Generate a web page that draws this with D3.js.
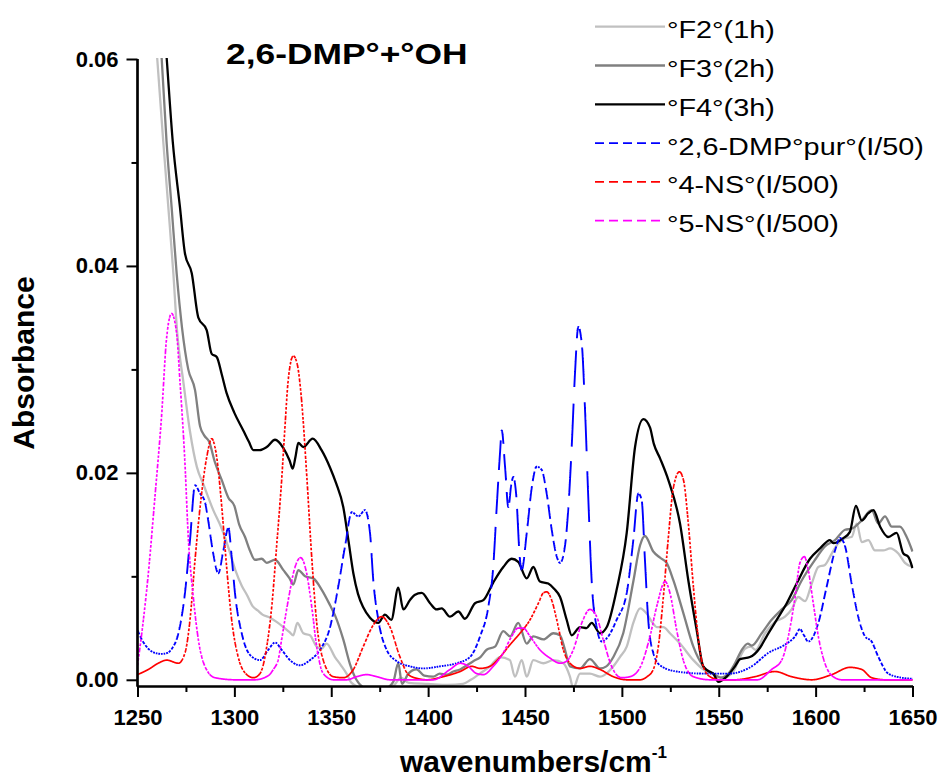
<!DOCTYPE html>
<html><head><meta charset="utf-8">
<script src="https://cdn.jsdelivr.net/npm/d3@7"></script>
<style>body{margin:0;background:#fff}svg{display:block}</style>
</head><body>
<svg id="chart" width="940" height="780"></svg>
<script>
// ---------------- DATA ----------------
const chartTitle = "2,6-DMP°+°OH";
const xTitle = "wavenumbers/cm";
const xTitleSup = "-1";
const yTitle = "Absorbance";
const xTickValues = [1250,1300,1350,1400,1450,1500,1550,1600,1650];
const xMinorTicks = [1275,1325,1375,1425,1475,1525,1575,1625];
const yTickValues = [0.00,0.02,0.04,0.06];
const yTickLabels = ["0.00","0.02","0.04","0.06"];
const yMinorTicks = [0.01,0.03,0.05];

const seriesNames = ["°F2°(1h)","°F3°(2h)","°F4°(3h)","°2,6-DMP°pur°(I/50)","°4-NS°(I/500)","°5-NS°(I/500)"];
const seriesColors = ["#c0c0c0","#808080","#000000","#0000ff","#ff0000","#ff00ff"];

const f2Wn = [1256,1260.2,1263.3,1265.9,1268.5,1270.5,1273.6,1277.1,1280.6,1284.2,1289.1,1293.5,1297.2,1300.5,1303.8,1306.5,1309.5,1312,1314.5,1318.4,1321.8,1325.3,1328.5,1330.4,1332.5,1335.6,1339,1342.5,1345,1347.6,1351.9,1355,1357.9,1360.5,1366,1375,1382,1386,1390,1400,1410,1418,1422,1426.8,1431.9,1437.1,1442.2,1444.8,1448.3,1450.9,1454.3,1459.5,1464.6,1469.8,1473.2,1474.9,1478.4,1483.5,1488.7,1492,1495.6,1499,1502.5,1505.9,1509.4,1512.8,1515.5,1518,1521.4,1524.8,1530,1536.9,1542,1547.2,1552.4,1557.5,1561,1563.5,1566.5,1569,1573.9,1579,1584.2,1587.6,1591,1594.5,1598,1601.4,1604.8,1608.3,1611.7,1615.2,1618.6,1621.2,1623.8,1627.2,1630.6,1634.9,1638.4,1642.7,1646.1,1650];
const f2Abs = [0.070,0.060,0.052,0.0457,0.0393,0.0335,0.0289,0.0240,0.0206,0.0188,0.0164,0.0146,0.0126,0.0106,0.0091,0.0082,0.0071,0.0067,0.0063,0.0060,0.0056,0.0051,0.0046,0.0043,0.0055,0.0045,0.0043,0.0032,0.0030,0.0035,0.0022,0.0014,0.0006,-0.0003,-0.0008,-0.0009,-0.0006,0.0002,-0.0003,-0.0004,-0.0005,-0.0004,0.0000,0.0006,0.0013,0.0022,0.0019,0.0003,0.0019,0.0003,0.0019,0.0016,0.0019,0.0016,0.0003,-0.0008,0.0006,0.0006,0.0003,0.0006,0.0013,0.0022,0.0032,0.0055,0.0069,0.0064,0.0056,0.0051,0.0051,0.0045,0.0035,0.0019,0.0010,0.0005,0.0002,0.0008,0.0022,0.0030,0.0032,0.0029,0.0045,0.0056,0.0061,0.0068,0.0080,0.0076,0.0093,0.0109,0.0111,0.0122,0.0132,0.0137,0.0138,0.0151,0.0133,0.0135,0.0125,0.0125,0.0127,0.0122,0.0113,0.0109];

const f3Wn = [1258,1262.5,1265,1267.6,1270.2,1273,1276.2,1279.7,1282.3,1284.5,1287,1290,1293.5,1296.9,1300,1302.5,1305.5,1308,1310.6,1314.1,1316.7,1321,1325.3,1328.5,1330.4,1333,1336.5,1340.7,1345.1,1349.4,1352,1356.2,1359.7,1363,1368,1378,1382,1384.6,1386.5,1389.8,1394,1398,1402.7,1406,1409.6,1413,1416.5,1420,1423.3,1427,1430.2,1434.5,1438.8,1442.3,1446.5,1450.9,1454.3,1459.5,1464.6,1468,1470.5,1473.2,1478.4,1483.5,1488.7,1492,1495.6,1500.7,1505.9,1509.4,1511.9,1516.2,1519.7,1523.1,1526.6,1531.8,1536.9,1542,1547.2,1551,1555,1558.4,1561.9,1565,1567,1572.2,1577.3,1582.5,1587.6,1592.8,1599.7,1604.8,1610,1615.2,1618.6,1623.8,1628.9,1632.4,1635.8,1639.3,1643.5,1647,1650];
const f3Abs = [0.070,0.060,0.052,0.0457,0.0393,0.0340,0.0300,0.0280,0.0245,0.0236,0.0230,0.0210,0.0193,0.0176,0.0168,0.0150,0.0138,0.0125,0.0116,0.0117,0.0113,0.0116,0.0106,0.0098,0.0092,0.0106,0.0100,0.0098,0.0087,0.0072,0.0062,0.0039,0.0015,0.0000,-0.0008,-0.0008,-0.0002,0.0016,-0.0004,0.0006,0.0010,0.0004,0.0003,0.0006,0.0005,0.0008,0.0010,0.0014,0.0018,0.0022,0.0029,0.0032,0.0047,0.0042,0.0055,0.0035,0.0042,0.0039,0.0045,0.0043,0.0030,0.0013,0.0011,0.0020,0.0011,0.0013,0.0022,0.0045,0.0095,0.0130,0.0139,0.0124,0.0118,0.0113,0.0096,0.0064,0.0032,0.0013,0.0006,0.0002,0.0006,0.0016,0.0029,0.0035,0.0033,0.0045,0.0058,0.0068,0.0077,0.0096,0.0116,0.0129,0.0135,0.0145,0.0146,0.0154,0.0164,0.0151,0.0158,0.0148,0.0148,0.0138,0.0124];

const f4Wn = [1262,1265.1,1268.2,1271.9,1274.5,1278,1281.4,1285.7,1288.3,1290.9,1293.5,1296,1300,1304.6,1307.5,1309.8,1313,1316.7,1321,1325.3,1328.5,1330.1,1331.5,1333,1335.6,1340.4,1345,1349.4,1352.5,1356.2,1359,1361.4,1363.8,1366.5,1370,1374.3,1377.7,1381,1384.6,1387.2,1390.6,1393,1396.7,1401,1404.4,1407,1411.3,1415.6,1419,1424.2,1428.5,1433.6,1438.8,1443.1,1446.5,1450.9,1454.3,1457.7,1462,1465,1468.1,1471.5,1474.1,1478.4,1481.8,1484.4,1488.7,1492.2,1497.3,1502.5,1506.8,1511.1,1514.5,1516.5,1519.7,1524,1530,1534.3,1538.6,1542,1545,1547.2,1549.8,1554.1,1558.4,1561,1566.1,1571.3,1575,1579.9,1585.1,1590.2,1597.1,1602.3,1607.4,1609.1,1614.3,1617.7,1620.8,1623.8,1627.2,1629.8,1633.3,1637.5,1641.8,1645.3,1647.8,1650];
const f4Abs = [0.068,0.060,0.052,0.0457,0.0412,0.0393,0.0350,0.0338,0.0315,0.0312,0.0295,0.0277,0.0258,0.0241,0.0230,0.0222,0.0222,0.0225,0.0232,0.0224,0.0212,0.0204,0.0215,0.0229,0.0225,0.0233,0.0222,0.0205,0.0190,0.0167,0.0133,0.0103,0.0083,0.0070,0.0060,0.0055,0.0063,0.0058,0.0089,0.0068,0.0077,0.0082,0.0084,0.0074,0.0068,0.0069,0.0061,0.0066,0.0059,0.0074,0.0077,0.0094,0.0109,0.0117,0.0114,0.0098,0.0109,0.0095,0.0093,0.0088,0.0080,0.0058,0.0043,0.0051,0.0050,0.0055,0.0045,0.0051,0.0087,0.0142,0.0225,0.0252,0.0244,0.0228,0.0214,0.0193,0.0151,0.0096,0.0048,0.0013,0.0008,0.0006,-0.0002,0.0003,0.0013,0.0020,0.0022,0.0031,0.0043,0.0058,0.0074,0.0093,0.0117,0.0127,0.0135,0.0132,0.0137,0.0143,0.0168,0.0154,0.0161,0.0164,0.0148,0.0138,0.0142,0.0122,0.0119,0.0108];

const dmpWn = [1250,1252.5,1255.6,1259,1262.5,1265.5,1267.7,1271.1,1274.5,1277.1,1279.7,1282.3,1284.8,1286.5,1289.1,1291.7,1294.3,1296.9,1298.6,1300.3,1303.8,1308.1,1313.2,1317.5,1321,1324.4,1328.7,1333.9,1339,1344.2,1349.4,1353.6,1357.1,1360.6,1364,1367.4,1370,1371.7,1374.3,1378.6,1383.8,1390.6,1397.5,1406.1,1414.7,1421.6,1426.8,1431.1,1433.6,1435.4,1437.1,1438,1439.7,1441.4,1443,1444,1445.4,1447.4,1448.3,1450.9,1453.5,1456,1458.6,1461.2,1463.8,1466.4,1468.1,1470.6,1472.4,1474.1,1475.8,1477.5,1479.3,1481,1482.7,1484.4,1487,1489.6,1493,1497.3,1502.5,1505.9,1508.5,1510.2,1511.9,1513.6,1516.2,1519.7,1528.3,1542,1555.6,1567,1575.6,1584.2,1589.4,1591.9,1594,1596.2,1601.4,1605.7,1610,1612.6,1615.2,1618.6,1622,1625.5,1628.9,1632.4,1637.5,1644.4,1650];
const dmpAbs = [0.0048,0.0038,0.0030,0.0026,0.0025,0.0026,0.0030,0.0045,0.0084,0.0135,0.0188,0.0180,0.0172,0.0154,0.0122,0.0103,0.0125,0.0147,0.0119,0.0084,0.0045,0.0024,0.0019,0.0029,0.0036,0.0029,0.0019,0.0014,0.0019,0.0029,0.0051,0.0090,0.0129,0.0162,0.0158,0.0164,0.0142,0.0096,0.0058,0.0029,0.0018,0.0013,0.0011,0.0013,0.0016,0.0022,0.0042,0.0071,0.0109,0.0167,0.0219,0.0241,0.0206,0.0167,0.0190,0.0196,0.0180,0.0116,0.0106,0.0142,0.0186,0.0206,0.0203,0.0180,0.0145,0.0119,0.0113,0.0129,0.0167,0.0225,0.0296,0.0341,0.0325,0.0260,0.0174,0.0096,0.0051,0.0037,0.0042,0.0058,0.0084,0.0135,0.0180,0.0174,0.0116,0.0058,0.0026,0.0014,0.0008,0.0006,0.0006,0.0013,0.0026,0.0034,0.0042,0.0049,0.0043,0.0037,0.0055,0.0090,0.0125,0.0137,0.0129,0.0093,0.0061,0.0042,0.0037,0.0022,0.0006,0.0002,0.0001];

const ns4Wn = [1250,1255.6,1260.7,1265.1,1271.1,1274.5,1277.1,1279.7,1282.3,1285.7,1288.3,1290.9,1293.5,1296,1298.6,1302,1306.4,1309.8,1313.2,1316.7,1319.3,1321.8,1324.4,1326.1,1327.8,1330.4,1332.2,1334.7,1337.3,1339.9,1342.5,1345.9,1351.1,1356.2,1361.4,1366.5,1371.7,1376,1380.3,1385.5,1389.8,1395,1399.3,1407.8,1416.5,1422.5,1426.8,1431.9,1437.1,1442.3,1447.4,1452.6,1456.9,1459.5,1461.2,1463.8,1466.4,1469.8,1473.2,1478.4,1483.5,1488.7,1495.6,1502.5,1509.4,1513,1516.2,1518.8,1521.4,1524,1526.6,1529.7,1531.8,1534.3,1536.9,1539.5,1542,1545.5,1550.6,1558.4,1568.7,1579,1587.6,1598,1608.3,1617.7,1623.8,1628.9,1635.8,1650];
const ns4Abs = [0.0005,0.0010,0.0016,0.0019,0.0016,0.0026,0.0058,0.0116,0.0167,0.0215,0.0233,0.0215,0.0167,0.0109,0.0058,0.0022,0.0005,0.0002,0.0006,0.0032,0.0071,0.0129,0.0193,0.0244,0.0290,0.0313,0.0307,0.0270,0.0199,0.0119,0.0055,0.0019,0.0003,0.0002,0.0010,0.0032,0.0053,0.0061,0.0051,0.0022,0.0005,0.0001,0.0000,0.0003,0.0008,0.0013,0.0011,0.0013,0.0022,0.0034,0.0045,0.0058,0.0074,0.0084,0.0085,0.0077,0.0058,0.0029,0.0016,0.0011,0.0013,0.0010,0.0003,0.0000,0.0000,0.0003,0.0010,0.0032,0.0080,0.0138,0.0186,0.0201,0.0193,0.0151,0.0090,0.0039,0.0013,0.0003,0.0000,0.0000,0.0003,0.0008,0.0003,0.0000,0.0005,0.0012,0.0010,0.0002,0.0000,0.0000];

const ns5Wn = [1250,1252.2,1255.6,1259,1262.5,1265,1267.6,1270.2,1271.9,1274.5,1276.2,1278.8,1281.4,1284.8,1290,1300.3,1310.6,1317.5,1320.1,1322.7,1324.4,1327.8,1331.3,1334.2,1337.3,1339.9,1342.5,1345.9,1351.1,1358,1363.1,1368.3,1373.5,1380.3,1402.7,1411.3,1416.5,1420,1425.1,1428.5,1433.6,1438.8,1443.1,1446.5,1449.1,1452.6,1457.7,1462.9,1468.1,1471.5,1474.9,1479.3,1483.5,1487,1490.4,1494.7,1499.9,1504.2,1509.4,1514.5,1518,1522.3,1524.8,1528.3,1531.7,1536.9,1545.5,1570,1577.3,1582.5,1585.9,1589.4,1591.9,1594.2,1596.2,1598.8,1601.4,1604.8,1609.1,1613.5,1650];
const ns5Abs = [0.0014,0.0045,0.0103,0.0177,0.0257,0.0330,0.0354,0.0335,0.0289,0.0209,0.0138,0.0080,0.0039,0.0013,0.0002,0.0000,0.0000,0.0004,0.0010,0.0020,0.0039,0.0077,0.0109,0.0118,0.0103,0.0071,0.0032,0.0006,0.0000,0.0000,0.0003,0.0005,0.0003,0.0000,0.0000,0.0010,0.0016,0.0014,0.0006,0.0005,0.0013,0.0026,0.0042,0.0050,0.0050,0.0042,0.0029,0.0021,0.0016,0.0018,0.0029,0.0055,0.0068,0.0061,0.0039,0.0013,0.0002,0.0003,0.0012,0.0042,0.0071,0.0095,0.0084,0.0048,0.0019,0.0003,0.0000,0.0000,0.0010,0.0019,0.0042,0.0080,0.0113,0.0119,0.0106,0.0074,0.0042,0.0016,0.0003,0.0000,0.0000];

const seriesWn = [f2Wn,f3Wn,f4Wn,dmpWn,ns4Wn,ns5Wn];
const seriesAbs = [f2Abs,f3Abs,f4Abs,dmpAbs,ns4Abs,ns5Abs];

// ---------------- LAYOUT / STYLE ----------------
const FONT = "'Liberation Sans', Arial, Helvetica, sans-serif";
const seriesWidth = [2.3,2.3,2.3,1.9,1.7,1.7];
// dash style: null = solid; {type:'x'} dashes advance with wavenumber; {type:'seg'} pattern restarts each small x-step
const seriesDash = [null,null,null,
  {type:"x", P:2.6, D:1.9},
  {type:"seg", bucket:2, D:3, G:1.3},
  {type:"seg", bucket:2, D:3, G:1.3}];

const svg = d3.select("#chart");
const x = d3.scaleLinear().domain([1250,1650]).range([137.5,912.5]);
const y = d3.scaleLinear().domain([-0.0006,0.06]).range([686,59]);
const X0 = x(1250);

const defs = svg.append("defs");
defs.append("clipPath").attr("id","plotClip")
  .append("rect").attr("x",x(1250)).attr("y",y(0.06)-1)
  .attr("width",x(1650)-x(1250)+1).attr("height",y(-0.0006)-y(0.06)+1);

// flatten the d3 curve (through the scales) into a dense polyline
function flattenCurve(pts){
  const out=[]; let cx=0, cy=0;
  const ctx = {
    moveTo(a,b){out.push([a,b]);cx=a;cy=b;},
    lineTo(a,b){out.push([a,b]);cx=a;cy=b;},
    bezierCurveTo(x1,y1,x2,y2,a,b){
      const n=30;
      for(let k=1;k<=n;k++){const t=k/n,u=1-t;
        out.push([u*u*u*cx+3*u*u*t*x1+3*u*t*t*x2+t*t*t*a, u*u*u*cy+3*u*u*t*y1+3*u*t*t*y2+t*t*t*b]);}
      cx=a;cy=b;},
    closePath(){}
  };
  d3.line().curve(d3.curveMonotoneX).x(d=>x(d[0])).y(d=>y(d[1])).context(ctx)(pts);
  return out;
}
// build dashed path string
function dashedD(poly, st){
  let d="", on=false, s=0, bucket=null, s0=0;
  const step=0.35;
  const test=(px,py,sv)=>{
    if(st.type==="x"){ const m=((px-X0)%st.P+st.P)%st.P; return m<st.D; }
    const b=Math.floor((px-X0)/st.bucket);
    if(b!==bucket){bucket=b; s0=sv;}
    return ((sv-s0)%(st.D+st.G))<st.D;
  };
  for(let i=1;i<poly.length;i++){
    const [ax,ay]=poly[i-1],[bx,by]=poly[i];
    const len=Math.hypot(bx-ax,by-ay);
    const n=Math.max(1,Math.ceil(len/step));
    for(let k=(i===1?0:1);k<=n;k++){
      const t=k/n, px=ax+(bx-ax)*t, py=ay+(by-ay)*t, sv=s+len*t;
      if(test(px,py,sv)){ d+=(on?"L":"M")+px.toFixed(2)+","+py.toFixed(2); on=true; }
      else on=false;
    }
    s+=len;
  }
  return d;
}

// ---- series ----
const line = d3.line().curve(d3.curveMonotoneX).x(d=>x(d[0])).y(d=>y(d[1]));
const gSeries = svg.append("g").attr("clip-path","url(#plotClip)");
seriesNames.forEach((name,i)=>{
  const pts = seriesWn[i].map((w,k)=>[w, seriesAbs[i][k]]);
  const st = seriesDash[i];
  const dStr = st ? dashedD(flattenCurve(pts), st) : line(pts);
  gSeries.append("path")
    .attr("d", dStr)
    .attr("fill","none")
    .attr("stroke", seriesColors[i])
    .attr("stroke-width", seriesWidth[i])
    .attr("stroke-linejoin","round");
});

// ---- axes ----
const axisStyle = g => {
  g.selectAll("path.domain").attr("stroke","#000").attr("stroke-width",2.2);
  g.selectAll(".tick line").attr("stroke","#000").attr("stroke-width",2);
  g.selectAll("text").attr("font-family",FONT).attr("font-weight","bold").attr("font-size",22).attr("fill","#000");
};
const xAxisMinor = svg.append("g").attr("transform",`translate(0,${y(-0.0006)})`)
  .call(d3.axisBottom(x).tickValues(xMinorTicks).tickSize(6).tickSizeOuter(0).tickFormat(""));
xAxisMinor.call(axisStyle);
const xAxis = svg.append("g").attr("transform",`translate(0,${y(-0.0006)})`)
  .call(d3.axisBottom(x).tickValues(xTickValues).tickSize(11).tickSizeOuter(0).tickPadding(12).tickFormat(d3.format("d")));
xAxis.call(axisStyle);

const yAxisMinor = svg.append("g").attr("transform",`translate(${x(1250)},0)`)
  .call(d3.axisLeft(y).tickValues(yMinorTicks).tickSize(6).tickSizeOuter(0).tickFormat(""));
yAxisMinor.call(axisStyle);
yAxisMinor.select("path.domain").attr("d",`M0,${y(0.06)}V${y(-0.0006)}`);
const yAxis = svg.append("g").attr("transform",`translate(${x(1250)},0)`)
  .call(d3.axisLeft(y).tickValues(yTickValues).tickSize(11).tickSizeOuter(0).tickPadding(8)
    .tickFormat((d,i)=>yTickLabels[i]));
yAxis.call(axisStyle);
yAxis.select("path.domain").attr("d",`M0,${y(0.06)}V${y(-0.0006)+1}`);

// ---- titles ----
svg.append("text")
  .attr("transform",`translate(34,363) rotate(-90)`)
  .attr("text-anchor","middle").attr("font-family",FONT).attr("font-weight","bold")
  .attr("font-size",30).text(yTitle);

const xt = svg.append("text").attr("x",400).attr("y",772)
  .attr("font-family",FONT).attr("font-weight","bold").attr("font-size",30);
xt.append("tspan").text(xTitle);
xt.append("tspan").attr("font-size",17).attr("dy",-14).text(xTitleSup);

svg.append("text").attr("transform","translate(226,64) scale(1.22,1)")
  .attr("font-family",FONT).attr("font-weight","bold").attr("font-size",29).text(chartTitle);

// ---- legend ----
const legY0 = 26.7, legDy = 38.8;
const leg = svg.append("g");
seriesNames.forEach((name,i)=>{
  const ly = legY0 + i*legDy;
  leg.append("line").attr("x1",595).attr("x2",665).attr("y1",ly).attr("y2",ly)
    .attr("stroke",seriesColors[i]).attr("stroke-width",seriesWidth[i])
    .attr("stroke-dasharray", seriesDash[i] ? "9,5" : null);
  leg.append("text").attr("transform",`translate(667,${ly+11.5}) scale(1.2,1)`)
    .attr("font-family",FONT).attr("font-size",24).attr("fill","#000").text(name);
});
</script>
</body></html>
